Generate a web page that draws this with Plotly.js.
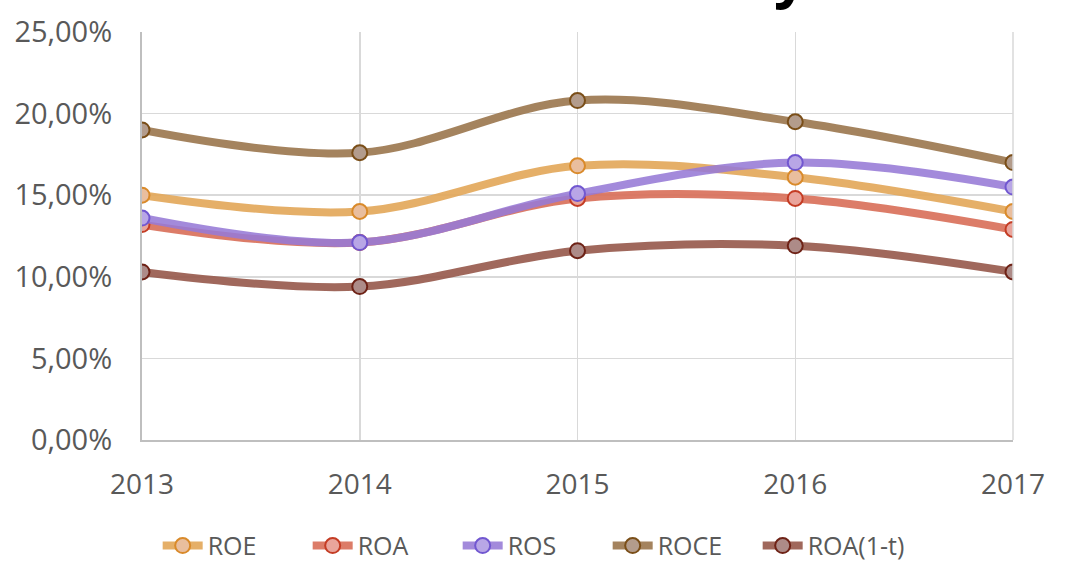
<!DOCTYPE html>
<html>
<head>
<meta charset="utf-8">
<script src="https://cdn.plot.ly/plotly-3.0.1.min.js"></script>
<style>html,body{margin:0;padding:0;background:#fff;}#chart{width:1067px;height:561px;}</style>
</head>
<body>
<div id="chart"></div>
<script>
const years = [2013, 2014, 2015, 2016, 2017];
const seriesNames = ["ROE", "ROA", "ROS", "ROCE", "ROA(1-t)"];
const roe = [0.150, 0.140, 0.168, 0.161, 0.140];
const roa = [0.132, 0.121, 0.148, 0.148, 0.129];
const ros = [0.136, 0.121, 0.151, 0.170, 0.155];
const roce = [0.190, 0.176, 0.208, 0.195, 0.170];
const roa1t = [0.103, 0.094, 0.116, 0.119, 0.103];
const yTicks = [0, 0.05, 0.10, 0.15, 0.20, 0.25];
const titleText = "Profitability";

const styles = [
  {line: "rgba(226,166,88,0.9)", fill: "#E9BE9E", edge: "#D98A2A"},
  {line: "rgba(216,110,88,0.9)", fill: "#E9A49B", edge: "#C43C24"},
  {line: "rgba(150,122,214,0.88)", fill: "#B8A6E6", edge: "#7157D0"},
  {line: "rgba(154,118,76,0.9)", fill: "#B39C8C", edge: "#7A4E18"},
  {line: "rgba(150,88,74,0.9)", fill: "#AD8B88", edge: "#6E2216"}
];
const data = [roe, roa, ros, roce, roa1t];

const traces = data.map((vals, i) => ({
  x: years, y: vals, name: seriesNames[i], type: "scatter", mode: "lines+markers",
  line: {color: styles[i].line, width: 8, shape: "spline", smoothing: 1},
  marker: {size: 15, color: styles[i].fill, line: {color: styles[i].edge, width: 2}},
  hoverinfo: "skip"
}));

const layout = {
  width: 1067, height: 561,
  margin: {l: 142, r: 54, t: 32, b: 121, autoexpand: false},
  paper_bgcolor: "#fff", plot_bgcolor: "#fff",
  separators: ",.",
  font: {family: "Open Sans, sans-serif", color: "#595959"},
  showlegend: true,
  legend: {orientation: "h", x: 0.018, xanchor: "left", yref: "container", y: 0.027, yanchor: "middle",
           font: {size: 25, color: "#595959"}, itemwidth: 40, tracegroupgap: 0,
           entrywidth: 95, entrywidthmode: "pixels"},
  xaxis: {range: [2013, 2017], tickvals: years, ticktext: years.map(String),
          showgrid: true, gridcolor: "#D9D9D9", gridwidth: 1.5,
          showline: true, linecolor: "#BFBFBF", linewidth: 2, zeroline: false,
          ticks: "", tickfont: {size: 28, color: "#595959"}, ticklabelstandoff: 18},
  yaxis: {range: [0, 0.25], tickvals: yTicks, tickformat: ".2%",
          showgrid: true, gridcolor: "#D9D9D9", gridwidth: 1.5,
          showline: true, linecolor: "#BFBFBF", linewidth: 2, zeroline: false,
          ticks: "", tickfont: {size: 29, color: "#595959"}, ticklabelstandoff: 22},
  shapes: [{type: "line", xref: "paper", yref: "paper", x0: 1, x1: 1, y0: 0, y1: 1,
            line: {color: "#D9D9D9", width: 1.5}}],
  annotations: [{text: "<b>" + titleText + "</b>", xref: "paper", yref: "paper",
                 x: 0.766, y: 1.042, xanchor: "right", yanchor: "bottom", showarrow: false,
                 font: {size: 58, color: "#000", family: "Open Sans, sans-serif"}}]
};

Plotly.newPlot("chart", traces, layout, {displayModeBar: false, staticPlot: true});
</script>
</body>
</html>
